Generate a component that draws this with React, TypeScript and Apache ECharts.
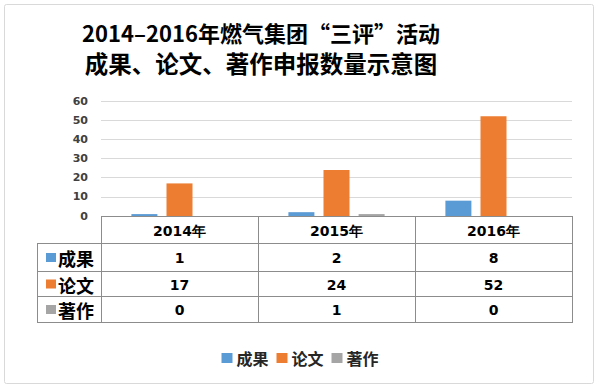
import React, { useEffect, useRef } from 'react';
import * as echarts from 'echarts';

const titleLines = ['2014–2016年燃气集团“三评”活动', '成果、论文、著作申报数量示意图'];
const categories = ['2014年', '2015年', '2016年'];
const seriesNames = ['成果', '论文', '著作'];
const chengguo = [1, 2, 8];
const lunwen = [17, 24, 52];
const zhuzuo = [0, 1, 0];
const colors = ['#5B9BD5', '#ED7D31', '#A5A5A5'];
const yMax = 60;
const yInterval = 10;

const GRID_LEFT = 101;
const GRID_RIGHT_X = 572;
const GRID_TOP = 101;
const GRID_BOTTOM_Y = 216;
const TABLE_LEFT = 37;
const ROW_Y = [216, 243, 271, 296, 322];
const LINE = '#8c8c8c';
const NUM_FONT = '"DejaVu Sans", Verdana, sans-serif';
const CJK_FONT = '"Noto Sans CJK SC", sans-serif';

export default function App() {
  const ref = useRef<HTMLDivElement>(null);
  useEffect(() => {
    if (!ref.current) return;
    const chart = echarts.init(ref.current, null, { renderer: 'svg' });
    const seriesData = [chengguo, lunwen, zhuzuo];
    const colW = (GRID_RIGHT_X - GRID_LEFT) / categories.length;
    const graphics: any[] = [];
    // outer frame
    graphics.push({
      type: 'rect',
      shape: { x: 4.5, y: 4.5, width: 589, height: 379, r: 2 },
      style: { fill: 'none', stroke: '#d9d9d9', lineWidth: 1 },
      z: 0,
    });
    // title
    const titleSizes = [22, 23.5];
    const titleY = [32, 63];
    titleLines.forEach((t, i) => {
      graphics.push({
        type: 'text',
        style: {
          text: t,
          x: 261,
          y: titleY[i],
          textAlign: 'center',
          textVerticalAlign: 'middle',
          fontSize: titleSizes[i],
          fontWeight: 'bold',
          fontFamily: CJK_FONT,
          fill: '#000',
        },
        z: 10,
      });
    });
    // horizontal table lines
    ROW_Y.forEach((y, i) => {
      graphics.push({
        type: 'line',
        shape: { x1: i === 0 ? GRID_LEFT : TABLE_LEFT, y1: y + 0.5, x2: GRID_RIGHT_X + 1, y2: y + 0.5 },
        style: { stroke: LINE, lineWidth: 1 },
        z: 10,
      });
    });
    // vertical lines
    graphics.push({
      type: 'line',
      shape: { x1: TABLE_LEFT + 0.5, y1: ROW_Y[1], x2: TABLE_LEFT + 0.5, y2: ROW_Y[4] },
      style: { stroke: LINE, lineWidth: 1 },
      z: 10,
    });
    for (let c = 0; c <= categories.length; c++) {
      const x = Math.round(GRID_LEFT + c * colW) + 0.5;
      graphics.push({
        type: 'line',
        shape: { x1: x, y1: ROW_Y[0], x2: x, y2: ROW_Y[4] + 1 },
        style: { stroke: LINE, lineWidth: 1 },
        z: 10,
      });
    }
    // header texts
    categories.forEach((cat, c) => {
      graphics.push({
        type: 'text',
        style: {
          text: cat,
          x: GRID_LEFT + (c + 0.5) * colW,
          y: (ROW_Y[0] + ROW_Y[1]) / 2 + 1,
          textAlign: 'center',
          textVerticalAlign: 'middle',
          fontSize: 14,
          fontWeight: 'bold',
          fontFamily: NUM_FONT,
          fill: '#000',
        },
        z: 10,
      });
    });
    // rows
    seriesNames.forEach((name, r) => {
      const cy = (ROW_Y[r + 1] + ROW_Y[r + 2]) / 2 + 1;
      graphics.push({
        type: 'rect',
        shape: { x: 46, y: cy - 5, width: 10, height: 9 },
        style: { fill: colors[r] },
        z: 10,
      });
      graphics.push({
        type: 'text',
        style: {
          text: name,
          x: 58,
          y: cy,
          textAlign: 'left',
          textVerticalAlign: 'middle',
          fontSize: 18,
          fontWeight: 'bold',
          fontFamily: CJK_FONT,
          fill: '#000',
        },
        z: 10,
      });
      seriesData[r].forEach((v, c) => {
        graphics.push({
          type: 'text',
          style: {
            text: String(v),
            x: GRID_LEFT + (c + 0.5) * colW,
            y: cy,
            textAlign: 'center',
            textVerticalAlign: 'middle',
            fontSize: 14,
            fontWeight: 'bold',
            fontFamily: NUM_FONT,
            fill: '#000',
          },
          z: 10,
        });
      });
    });

    chart.setOption({
      animation: false,
      backgroundColor: '#fff',
      legend: {
        data: seriesNames,
        left: 'center',
        top: 345,
        icon: 'rect',
        itemWidth: 11,
        itemHeight: 10,
        itemGap: 8,
        textStyle: { fontSize: 16, fontWeight: 'bold', fontFamily: CJK_FONT, color: '#262626', padding: [0, 0, 0, -1] },
      },
      grid: {
        left: GRID_LEFT,
        right: 600 - GRID_RIGHT_X,
        top: GRID_TOP,
        height: GRID_BOTTOM_Y - GRID_TOP,
        containLabel: false,
      },
      xAxis: {
        type: 'category',
        data: categories,
        axisLine: { show: false },
        axisTick: { show: false },
        axisLabel: { show: false },
      },
      yAxis: {
        type: 'value',
        min: 0,
        max: yMax,
        interval: yInterval,
        axisLine: { show: false },
        axisTick: { show: false },
        axisLabel: {
          fontSize: 11,
          fontWeight: 'bold',
          fontFamily: NUM_FONT,
          color: '#404040',
          margin: 13,
        },
        splitLine: { lineStyle: { color: '#d9d9d9', width: 1 } },
      },
      series: seriesNames.map((name, i) => ({
        name,
        type: 'bar',
        data: seriesData[i],
        barWidth: 26,
        barGap: '35%',
        itemStyle: { color: colors[i] },
      })),
      graphic: graphics,
    });
    return () => chart.dispose();
  }, []);
  return (
    <div
      ref={ref}
      style={{ position: 'absolute', left: 0, top: 0, width: 600, height: 391 }}
    />
  );
}
